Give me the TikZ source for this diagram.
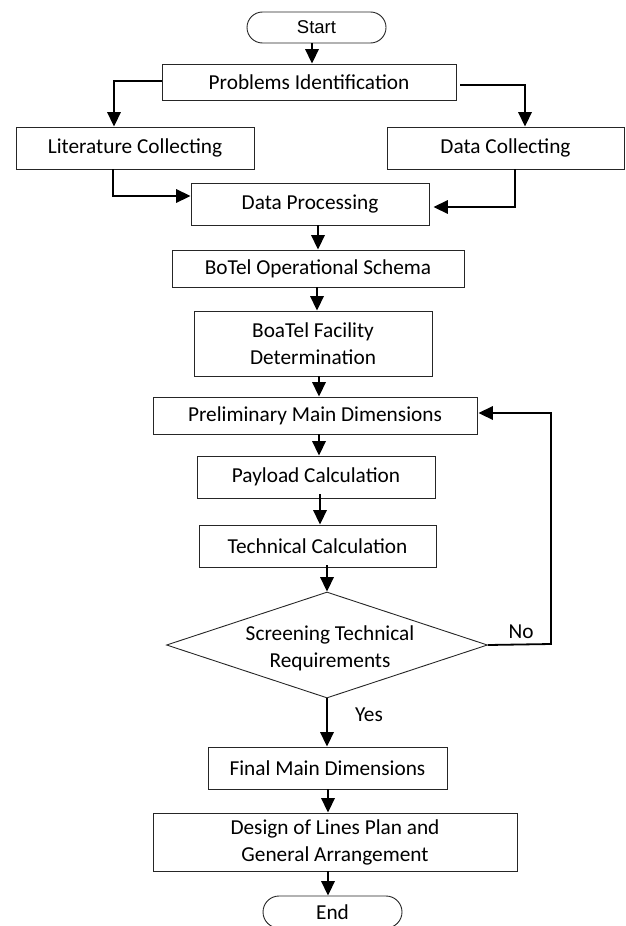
\documentclass[tikz,border=0pt]{standalone}
\usepackage{fontspec}
\setmainfont{Carlito}
\newfontfamily\arialfont{Liberation Sans}
\usetikzlibrary{shapes.geometric,shapes.misc,arrows.meta,calc}
\begin{document}
\begin{tikzpicture}[x=1pt,y=-1pt,
  every node/.style={font=\fontsize{21.3}{27}\selectfont},
  box/.style={draw=black!85, line width=0.9pt, rectangle, inner sep=0pt, align=center},
  term/.style={draw=black!85, line width=0.9pt, rounded rectangle, inner sep=0pt},
  decision/.style={draw=black!85, line width=0.9pt, diamond, inner sep=0pt},
  arr/.style={line width=1.8pt, -{Triangle[length=14.5pt,width=13.5pt]}},
  lbl/.style={inner sep=0pt}]

\useasboundingbox (0,0) rectangle (625,926);

% process steps
\node[term, minimum width=139pt, minimum height=31pt,
      font=\arialfont\fontsize{18.5}{22}\selectfont] (start) at (316.5,27.5) {Start};
\node[box, minimum width=294pt, minimum height=36pt] (prob) at (309,82) {Problems Identification};
\node[box, minimum width=238pt, minimum height=42pt] (lit) at (135,148) {Literature Collecting};
\node[box, minimum width=237pt, minimum height=42pt] (dcol) at (505.5,148) {Data Collecting};
\node[box, minimum width=238pt, minimum height=42pt] (dproc) at (310,204) {Data Processing};
\node[box, minimum width=292pt, minimum height=37pt] (bot) at (318,268.5) {BoTel Operational Schema};
\node[box, minimum width=238pt, minimum height=65pt] (boa) at (313,343.5) {BoaTel Facility\\Determination};
\node[box, minimum width=324pt, minimum height=37pt] (pre) at (315,415.5) {Preliminary Main Dimensions};
\node[box, minimum width=238pt, minimum height=42pt] (pay) at (316,477) {Payload Calculation};
\node[box, minimum width=237pt, minimum height=42pt] (tech) at (317.5,546) {Technical Calculation};
\node[decision, minimum width=321pt, minimum height=106pt] (dia) at (327,645) {};
\node[lbl, align=center] (diatext) at (330,648) {Screening Technical\\Requirements};
\node[box, minimum width=239pt, minimum height=42pt] (fin) at (327.5,768) {Final Main Dimensions};
\node[box, minimum width=364pt, minimum height=58pt] (des) at (335,842) {Design of Lines Plan and\\General Arrangement};
\node[term, minimum width=139pt, minimum height=32pt] (endn) at (332.5,912) {End};

% branch labels
\node[lbl] (no) at (521,632) {No};
\node[lbl] (yes) at (369,715) {Yes};

% routing points
\coordinate (litdrop) at (114,0);
\coordinate (dcoldrop) at (525,0);
\coordinate (litrise) at (113,0);
\coordinate (dcolrise) at (515,0);
\coordinate (loop) at (551,644);

% connectors
\draw[arr] (start.south -| 312,0) -- (312,0 |- prob.north);
\draw[arr] ([yshift=1]prob.west) -| (litdrop |- lit.north);
\draw[arr] ([shift={(4,3)}]prob.east) -| (dcoldrop |- dcol.north);
\draw[arr] (litrise |- lit.south) |- ([yshift=8]dproc.west);
\draw[arr] (dcolrise |- dcol.south) |- ([shift={(4,3)}]dproc.east);
\draw[arr] (dproc.south -| bot.north) -- (bot.north);
\draw[arr] ([xshift=-1]bot.south) -- ([xshift=-1]bot.south |- boa.north);
\draw[arr] (boa.south -| 319,0) -- (319,0 |- pre.north);
\draw[arr] (pre.south -| 319,0) -- (319,0 |- pay.north);
\draw[arr] ([yshift=4]pay.south -| 320,0) -- (320,0 |- tech.north);
\draw[arr] ([yshift=2]tech.south -| dia.north) -- (dia.north);
\draw[arr] (dia.south) -- (dia.south |- fin.north);
\draw[arr] (fin.south -| 328,0) -- (328,0 |- des.north);
\draw[arr] (des.south -| 328,0) -- (328,0 |- endn.north);
\draw[arr] (dia.east) -- (loop) |- ([shift={(1,-2.5)}]pre.east);

\end{tikzpicture}
\end{document}
